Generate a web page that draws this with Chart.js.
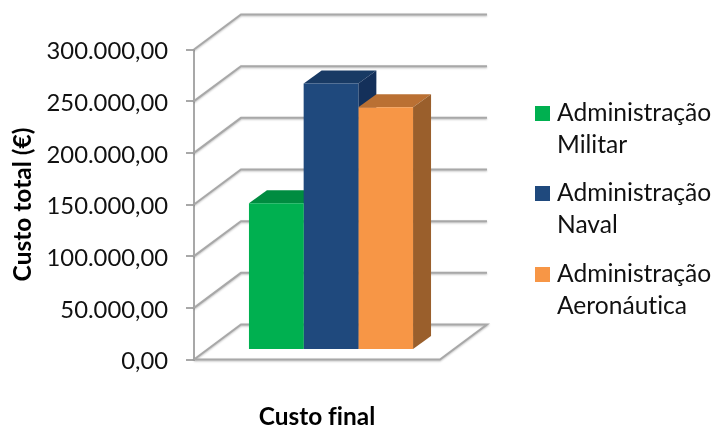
<!DOCTYPE html>
<html>
<head>
<meta charset="utf-8">
<style>
  html, body { margin: 0; padding: 0; background: #fff; }
  canvas { display: block; }
</style>
<script src="https://cdn.jsdelivr.net/npm/chart.js@4"></script>
</head>
<body>
<canvas id="custoChart" width="719" height="429"></canvas>
<script>
const categories = ['Custo final'];
const seriesNames = [['Administração', 'Militar'], ['Administração', 'Naval'], ['Administração', 'Aeronáutica']];
const militar = [142000];
const naval = [258000];
const aeronautica = [235000];
const tickLabels = ['0,00', '50.000,00', '100.000,00', '150.000,00', '200.000,00', '250.000,00', '300.000,00'];

const frontColors = ['#00B050', '#1F497D', '#F79646'];
const topColors = ['#008C40', '#183A64', '#BA7033'];
const sideColors = ['#007A38', '#14305A', '#9A5F2C'];

const FONT = 'Lato, Carlito, sans-serif';
const GRID = '#a8a8a8';

// depth of the box and of the bars, in pixels
const wallDx = 47, wallDy = -35;
const barDx = 18, barDy = -13;
const barShiftX = 14, barShiftY = -9.5;

function poly(ctx, pts, fill) {
  ctx.beginPath();
  pts.forEach((p, i) => i ? ctx.lineTo(p[0], p[1]) : ctx.moveTo(p[0], p[1]));
  ctx.closePath();
  ctx.fillStyle = fill;
  ctx.fill();
}

// no "fi" ligature in the axis title
const plainTextPlugin = {
  id: 'plainText',
  beforeDraw(chart) {
    chart.ctx.textRendering = 'optimizeSpeed';
  }
};

// back wall lines, side wall lines and floor
const wallsPlugin = {
  id: 'walls',
  beforeDatasetsDraw(chart) {
    const ctx = chart.ctx, a = chart.chartArea, y = chart.scales.y;
    ctx.save();
    ctx.strokeStyle = GRID;
    ctx.lineWidth = 2;
    ctx.shadowColor = 'rgba(0,0,0,0.25)';
    ctx.shadowBlur = 2;
    ctx.shadowOffsetY = 1;
    y.ticks.forEach(t => {
      const py = y.getPixelForValue(t.value);
      ctx.beginPath();
      ctx.moveTo(a.left, py);
      ctx.lineTo(a.left + wallDx, py + wallDy);
      ctx.lineTo(a.right + wallDx, py + wallDy);
      if (t.value === 0) {
        ctx.lineTo(a.right, py);
        ctx.lineTo(a.left, py);
      }
      ctx.stroke();
    });
    ctx.restore();
  }
};

// top and side faces first, then the library paints the front faces on a shifted plane
const barDepthPlugin = {
  id: 'barDepth',
  beforeDatasetsDraw(chart) {
    const ctx = chart.ctx;
    ctx.save();
    ctx.translate(barShiftX, barShiftY);
    chart.data.datasets.forEach((ds, i) => {
      const bar = chart.getDatasetMeta(i).data[0];
      const l = bar.x - bar.width / 2, r = bar.x + bar.width / 2;
      poly(ctx, [[l, bar.y], [l + barDx, bar.y + barDy], [r + barDx, bar.y + barDy], [r, bar.y]], topColors[i]);
      poly(ctx, [[r, bar.y], [r + barDx, bar.y + barDy], [r + barDx, bar.base + barDy], [r, bar.base]], sideColors[i]);
    });
  },
  afterDatasetsDraw(chart) {
    chart.ctx.restore();
  }
};

// two-line legend on the right
const sideLegendPlugin = {
  id: 'sideLegend',
  afterDraw(chart) {
    const ctx = chart.ctx;
    const swatchY = [106, 186, 267];
    ctx.save();
    ctx.textBaseline = 'alphabetic';
    ctx.font = '24.6px ' + FONT;
    seriesNames.forEach((lines, i) => {
      ctx.fillStyle = frontColors[i];
      ctx.fillRect(535, swatchY[i], 15, 15);
      ctx.fillStyle = '#111';
      ctx.fillText(lines[0], 557, swatchY[i] + 15);
      ctx.fillText(lines[1], 557, swatchY[i] + 47);
    });
    ctx.restore();
  }
};

new Chart(document.getElementById('custoChart'), {
  type: 'bar',
  data: {
    labels: categories,
    datasets: [
      { label: seriesNames[0].join(' '), data: militar, backgroundColor: frontColors[0] },
      { label: seriesNames[1].join(' '), data: naval, backgroundColor: frontColors[1] },
      { label: seriesNames[2].join(' '), data: aeronautica, backgroundColor: frontColors[2] }
    ]
  },
  options: {
    responsive: false,
    animation: false,
    layout: { padding: { top: 49.5, right: 279, bottom: 0, left: 0 } },
    datasets: { bar: { categoryPercentage: 0.667, barPercentage: 1, clip: false } },
    plugins: { legend: { display: false }, tooltip: { enabled: false } },
    scales: {
      x: {
        afterFit(scale) { scale.height = 69.5; },
        grid: { display: false },
        border: { display: false },
        ticks: { display: false },
        title: {
          display: true,
          text: categories[0],
          color: '#000',
          font: { family: FONT, size: 24.4, weight: 'bold' },
          padding: { top: 0, bottom: -2.5 }
        }
      },
      y: {
        min: 0,
        max: 300000,
        afterFit(scale) { scale.width = 194; },
        grid: { drawOnChartArea: false, drawTicks: true, tickLength: 8, color: GRID, lineWidth: 2 },
        border: { display: true, color: GRID, width: 2 },
        ticks: {
          stepSize: 50000,
          padding: 18,
          labelOffset: 2,
          color: '#111',
          font: { family: FONT, size: 23.8 },
          callback: (v, i) => tickLabels[i]
        },
        title: {
          display: true,
          text: 'Custo total (€)',
          color: '#000',
          font: { family: FONT, size: 24.5, weight: 'bold' },
          padding: { top: 8, bottom: 0 }
        }
      }
    }
  },
  plugins: [plainTextPlugin, wallsPlugin, barDepthPlugin, sideLegendPlugin]
});
</script>
</body>
</html>
